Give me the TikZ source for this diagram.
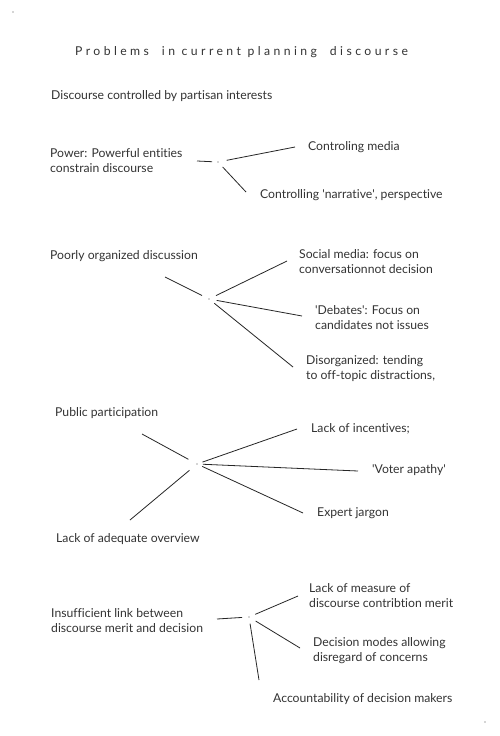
\documentclass[tikz,border=0pt]{standalone}
\usepackage{fontspec}
\setmainfont[Ligatures={NoCommon}]{Lato}
\begin{document}
\begin{tikzpicture}[x=1pt,y=-1pt,
  lbl/.style={anchor=west,inner sep=0pt,align=left,font=\fontsize{12.2}{15}\selectfont,text=black!80},
  hubdot/.style={circle,fill=black!70,inner sep=0pt,minimum size=1.2pt},
  conn/.style={draw=black!85,line width=0.8pt},
  gap/.style={shorten <=#1}]
\useasboundingbox[fill=white] (0,0) rectangle (500,736);
\node[hubdot] (d0) at (13,12) {};
\node[hubdot] (d9) at (485,722) {};
\node[lbl,font=\fontsize{12.2}{15}\selectfont\addfontfeature{LetterSpace=28}] (title) at (75,52) {Problems\ \ in current planning\ \ discourse};
\node[lbl] (partisan) at (51,96) {Discourse controlled by partisan interests};
% group 1
\node[lbl] (power) at (50,161) {Power: Powerful entities\\constrain discourse};
\node[hubdot] (h1) at (218,162) {};
\node[lbl] (media) at (308,147) {Controling media};
\node[lbl] (narr) at (260,195) {Controlling \textquotesingle narrative\textquotesingle, perspective};
\coordinate (e1a) at (197,161);
\coordinate (e1b) at (295,147);
\coordinate (e1c) at (246,192);
\draw[conn,gap=5] (h1) -- (e1a);
\draw[conn,gap=8] (h1) -- (e1b);
\draw[conn,gap=6] (h1) -- (e1c);
% group 2
\node[lbl] (poorly) at (50,256) {Poorly organized discussion};
\node[hubdot] (h2) at (209,299) {};
\node[lbl] (social) at (299,261.5) {Social media: focus on\\conversationnot decision};
\node[lbl] (debates) at (315,317.5) {\textquotesingle Debates\textquotesingle: Focus on\\candidates not issues};
\node[lbl] (disorg) at (306,369) {Disorganized: tending\\to off-topic distractions,};
\coordinate (e2a) at (165,277);
\coordinate (e2b) at (287,261);
\coordinate (e2c) at (302,316);
\coordinate (e2d) at (293,367);
\draw[conn,gap=7] (h2) -- (e2a);
\draw[conn,gap=7] (h2) -- (e2b);
\draw[conn,gap=7] (h2) -- (e2c);
\draw[conn,gap=6] (h2) -- (e2d);
% group 3
\node[lbl] (public) at (55,413) {Public participation};
\node[hubdot] (h3) at (197,464) {};
\node[lbl] (incent) at (311,429) {Lack of incentives;};
\node[lbl] (apathy) at (372,470) {\textquotesingle Voter apathy\textquotesingle};
\node[lbl] (jargon) at (317,513) {Expert jargon};
\node[lbl] (overview) at (56,539) {Lack of adequate overview};
\coordinate (e3a) at (142,434);
\coordinate (e3b) at (297,429);
\coordinate (e3c) at (358,471);
\coordinate (e3d) at (303,513);
\coordinate (e3e) at (130,520);
\draw[conn,gap=9] (h3) -- (e3a);
\draw[conn,gap=5] (h3) -- (e3b);
\draw[conn,gap=5] (h3) -- (e3c);
\draw[conn,gap=5] (h3) -- (e3d);
\draw[conn,gap=9] (h3) -- (e3e);
% group 4
\node[lbl] (insuff) at (51,621) {Insufficient link between\\discourse merit and decision};
\node[hubdot] (h4) at (249,617) {};
\node[lbl] (measure) at (309,595.5) {Lack of measure of\\discourse contribtion merit};
\node[lbl] (modes) at (313,650.5) {Decision modes allowing\\disregard of concerns};
\node[lbl] (account) at (273,699) {Accountability of decision makers};
\coordinate (e4a) at (217,619);
\coordinate (e4b) at (298,596);
\coordinate (e4c) at (300,648);
\coordinate (e4d) at (259,680);
\draw[conn,gap=6] (h4) -- (e4a);
\draw[conn,gap=6] (h4) -- (e4b);
\draw[conn,gap=7] (h4) -- (e4c);
\draw[conn,gap=6] (h4) -- (e4d);
\end{tikzpicture}
\end{document}
